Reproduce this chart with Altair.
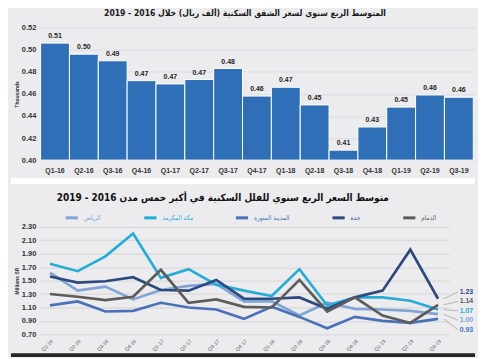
import altair as alt
import pandas as pd

# ---------------- data ----------------
quarters = ["Q1-16", "Q2-16", "Q3-16", "Q4-16", "Q1-17", "Q2-17", "Q3-17", "Q4-17",
            "Q1-18", "Q2-18", "Q3-18", "Q4-18", "Q1-19", "Q2-19", "Q3-19"]
apartment_avg = [0.506, 0.496, 0.490, 0.472, 0.469, 0.473, 0.483, 0.458,
                 0.466, 0.450, 0.409, 0.430, 0.448, 0.459, 0.457]

cities = ["الرياض", "مكة المكرمة", "المدينة المنورة", "جدة", "الدمام"]
riyadh = [1.62, 1.35, 1.41, 1.22, 1.36, 1.42, 1.45, 1.19, 1.19, 0.98, 1.17, 1.08, 1.07, 1.05, 1.00]
makkah = [1.75, 1.64, 1.86, 2.20, 1.54, 1.67, 1.44, 1.35, 1.27, 1.67, 1.13, 1.25, 1.25, 1.20, 1.07]
madinah = [1.13, 1.19, 1.04, 1.05, 1.17, 1.10, 1.07, 0.93, 1.11, 0.96, 0.79, 0.96, 0.90, 0.87, 0.93]
jeddah = [1.56, 1.47, 1.49, 1.55, 1.36, 1.35, 1.51, 1.23, 1.23, 1.25, 1.08, 1.25, 1.35, 1.96, 1.23]
dammam = [1.30, 1.26, 1.21, 1.26, 1.66, 1.17, 1.22, 1.11, 1.10, 1.51, 1.04, 1.25, 0.98, 0.87, 1.14]

top_ticks = [0.40, 0.42, 0.44, 0.46, 0.48, 0.50, 0.52]
bottom_ticks = [0.70, 0.90, 1.10, 1.30, 1.50, 1.70, 1.90, 2.10, 2.30]

top_title = "\u202bالمتوسط الربع سنوي لسعر الشقق السكنية (ألف ريال) خلال 2016 - 2019\u202c"
bottom_title = "\u202bمتوسط السعر الربع سنوي للفلل السكنية في أكبر خمس مدن 2016 - 2019\u202c"

# ---------------- styles ----------------
city_colors = ["#7fa5d5", "#26acd9", "#4a72bb", "#2d4a7f", "#5c5c5c"]
bar_color = "#2e6fb7"
num_font = "Liberation Sans"
ar_font = "DejaVu Sans Condensed"

# ---------------- top chart ----------------
bars_df = pd.DataFrame({"q": quarters, "v": apartment_avg})

TW, TH = 438, 133
xb = alt.X("q:N", sort=quarters, scale=alt.Scale(paddingInner=0, paddingOuter=0.06),
           axis=alt.Axis(title=None, labelAngle=0, ticks=False, domain=False, labelPadding=6,
                         labelFontSize=7, labelFont=num_font, labelFontWeight="bold",
                         labelColor="#333333", labelOverlap=False))
yb = alt.Y("v:Q", scale=alt.Scale(domain=[0.40, 0.52], nice=False, zero=False),
           axis=alt.Axis(title="Thousands", values=top_ticks,
                         format=".2f", ticks=False, domain=False, labelPadding=3,
                         labelFontSize=7.5, labelFont=num_font, labelFontWeight="bold",
                         labelColor="#333333", gridColor="#d9dde3", titleFontSize=5,
                         titleFont=num_font, titleFontWeight="bold", titleColor="#333333",
                         titlePadding=2, labelOverlap=False))

bars = alt.Chart(bars_df).mark_bar(color=bar_color, stroke="white", strokeWidth=1).encode(
    x=xb, y=yb, y2=alt.datum(0.40))
bar_text = alt.Chart(bars_df).mark_text(dy=-7, fontSize=7, fontWeight="bold", font=num_font,
                                         color="#262626").encode(
    x=xb, y=yb, text=alt.Text("v:Q", format=".2f"))
separator = alt.Chart(bars_df).mark_rule(color="white", strokeWidth=5).encode(
    x=alt.value(-28), x2=alt.value(TW), y=alt.value(TH + 21))

top = alt.layer(bars, bar_text, separator).properties(
    width=TW, height=TH,
    title=alt.TitleParams(top_title, font=ar_font, fontSize=8.6, fontWeight="bold",
                          color="#1a1a1a", anchor="middle", frame="group", offset=6, dx=-12))

# ---------------- bottom chart ----------------
rows = []
for city, vals in zip(cities, [riyadh, makkah, madinah, jeddah, dammam]):
    for i, (q, v) in enumerate(zip(quarters, vals)):
        rows.append({"city": city, "i": i, "q": q, "v": v})
lines_df = pd.DataFrame(rows)

last = len(quarters) - 1
ends = lines_df[lines_df["i"] == last].sort_values("v", ascending=False).reset_index(drop=True)
ends["slot"] = 1.33 - ends.index * 0.14
ends["i0"] = last + 0.2
ends["i1"] = last + 0.72
ends["it"] = last + 0.78
ends["label"] = ends["v"].map(lambda x: f"{x:.2f}")

BW, BH = 412, 108
label_expr = "[" + ",".join(f"'{q}'" for q in quarters) + "][datum.value]"
color_expr = " : ".join(f"datum.value == '{c}' ? '{col}'" for c, col in zip(cities, city_colors)) + " : '#666666'"

color_scale = alt.Scale(domain=cities, range=city_colors)
x_scale = alt.Scale(domain=[-0.4, last + 0.4], nice=False, zero=False)
y_scale = alt.Scale(domain=[0.7, 2.3], nice=False, zero=False)
x_axis = alt.Axis(title=None, values=list(range(len(quarters))), labelExpr=label_expr,
                  labelAngle=-45, labelFontSize=5, labelFont=num_font, labelColor="#555555",
                  grid=False, ticks=False, domain=False, labelPadding=4, labelOverlap=False)
y_axis = alt.Axis(title="Millions SR", values=bottom_ticks,
                  format=".2f", ticks=False, domain=False, labelPadding=3,
                  labelFontSize=7.5, labelFont=num_font, labelFontWeight="bold",
                  labelColor="#333333", gridColor="#d6d6d6", titleFontSize=5,
                  titleFont=num_font, titleFontWeight="bold", titleColor="#333333",
                  titlePadding=2, labelOverlap=False)

lines = alt.Chart(lines_df).mark_line(strokeWidth=2.7).encode(
    x=alt.X("i:Q", scale=x_scale, axis=x_axis),
    y=alt.Y("v:Q", scale=y_scale, axis=y_axis),
    color=alt.Color("city:N", scale=color_scale,
                    legend=alt.Legend(orient="none", legendX=25, legendY=-17, direction="horizontal",
                                      title=None, columnPadding=36, symbolType="stroke",
                                      symbolStrokeWidth=3, symbolSize=150, labelFontSize=6.5,
                                      labelFont=ar_font, labelColor={"expr": color_expr})),
    detail="city:N")
leaders = alt.Chart(ends).mark_rule(color="#a6a6a6", strokeWidth=0.8).encode(
    x=alt.X("i0:Q", scale=x_scale, axis=x_axis), x2="i1:Q",
    y=alt.Y("v:Q", scale=y_scale, axis=y_axis), y2="slot:Q")
end_text = alt.Chart(ends).mark_text(align="left", fontSize=7, fontWeight="bold", font=num_font).encode(
    x=alt.X("it:Q", scale=x_scale, axis=x_axis),
    y=alt.Y("slot:Q", scale=y_scale, axis=y_axis),
    text="label:N",
    color=alt.Color("city:N", scale=color_scale, legend=None))
bottom_band = alt.Chart(ends).mark_rule(color="#262626", strokeWidth=3).encode(
    x=alt.value(-28), x2=alt.value(TW), y=alt.value(BH + 21))

bottom = alt.layer(lines, leaders, end_text, bottom_band).properties(
    width=BW, height=BH,
    title=alt.TitleParams(bottom_title, font=ar_font, fontSize=10, fontWeight="bold",
                          color="#111111", anchor="start", frame="group", offset=7, dx=18))

chart = alt.vconcat(top, bottom, spacing=9).resolve_scale(
    color="independent", x="independent", y="independent"
).properties(
    background="#ececee", padding=0
).configure_view(stroke=None).configure_axis(labelOverlap=False)

chart.save("out.html", embed_options={"renderer": "svg", "actions": False})
